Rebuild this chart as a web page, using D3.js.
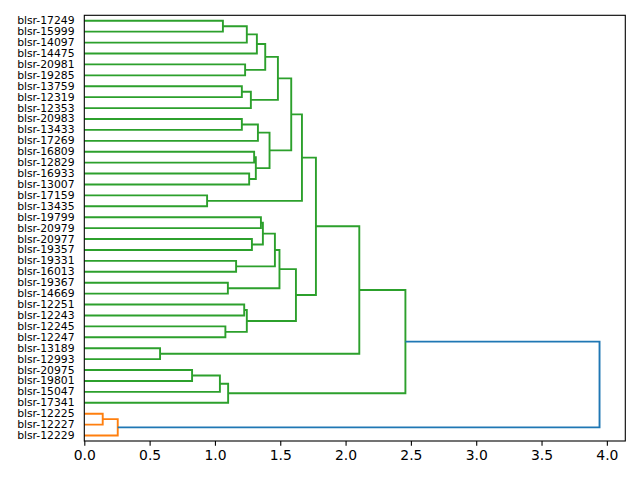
<!DOCTYPE html>
<html lang="en">
<head>
    <meta charset="UTF-8">
    <title>Dendrogram</title>
    <style>
        body {
            margin: 0;
            padding: 0;
            background-color: #ffffff;
        }
        svg text {
            font-family: 'DejaVu Sans', sans-serif;
            fill: #000000;
        }
    </style>
</head>
<body>
    <svg id="chart" width="640" height="480"></svg>
    <script src="https://d3js.org/d3.v7.min.js"></script>
    <script>
        // leaves, top to bottom
        const labels = [
            "blsr-17249", "blsr-15999", "blsr-14097", "blsr-14475", "blsr-20981", "blsr-19285",
            "blsr-13759", "blsr-12319", "blsr-12353", "blsr-20983", "blsr-13433", "blsr-17269",
            "blsr-16809", "blsr-12829", "blsr-16933", "blsr-13007", "blsr-17159", "blsr-13435",
            "blsr-19799", "blsr-20979", "blsr-20977", "blsr-19357", "blsr-19331", "blsr-16013",
            "blsr-19367", "blsr-14669", "blsr-12251", "blsr-12243", "blsr-12245", "blsr-12247",
            "blsr-13189", "blsr-12993", "blsr-20975", "blsr-19801", "blsr-15047", "blsr-17341",
            "blsr-12225", "blsr-12227", "blsr-12229"
        ];
        // linkage: [child a, child b] (index < labels.length is a leaf, else merge number + labels.length)
        const mergePairs = [
            [0, 1], [39, 2], [40, 3], [4, 5], [41, 42], [6, 7], [44, 8], [43, 45],
            [9, 10], [47, 11], [12, 13], [14, 15], [49, 50], [48, 51], [46, 52], [16, 17],
            [53, 54], [18, 19], [20, 21], [56, 57], [22, 23], [58, 59], [24, 25], [60, 61],
            [26, 27], [28, 29], [63, 64], [62, 65], [55, 66], [30, 31], [67, 68], [32, 33],
            [70, 34], [71, 35], [69, 72], [36, 37], [74, 38], [73, 75]
        ];
        const mergeHeights = [
            1.061, 1.244, 1.321, 1.231, 1.385, 1.206, 1.275, 1.482,
            1.206, 1.329, 1.300, 1.262, 1.313, 1.418, 1.584, 0.940,
            1.666, 1.352, 1.283, 1.367, 1.162, 1.459, 1.099, 1.494,
            1.224, 1.080, 1.244, 1.620, 1.773, 0.580, 2.105, 0.825,
            1.038, 1.101, 2.458, 0.141, 0.256, 3.944
        ];
        const xTicks = [0, 0.5, 1, 1.5, 2, 2.5, 3, 3.5, 4];
        const palette = ["#ff7f0e", "#2ca02c", "#d62728", "#9467bd"];
        const aboveColor = "#1f77b4";

        const svg = d3.select("#chart");
        const margin = {top: 15.3, right: 14.7, bottom: 39, left: 84.3};
        const width = 640 - margin.left - margin.right;
        const height = 480 - margin.top - margin.bottom;
        const chart = svg.append("g").attr("transform", `translate(${margin.left}, ${margin.top})`);

        const n = labels.length;
        const maxH = d3.max(mergeHeights);
        const x = d3.scaleLinear().domain([0, maxH * 1.05]).range([0, width]);
        const y = d3.scaleLinear().domain([0, n]).range([0, height]);

        // positions of every node (leaf slot units) and heights
        const pos = labels.map((d, i) => i + 0.5);
        const hgt = labels.map(() => 0);
        const leafMax = labels.map((d, i) => i);
        mergePairs.forEach((p, k) => {
            pos.push((pos[p[0]] + pos[p[1]]) / 2);
            hgt.push(mergeHeights[k]);
            leafMax.push(Math.max(leafMax[p[0]], leafMax[p[1]]));
        });

        // colour clusters below 0.7 * max height, bottom cluster first
        const threshold = 0.7 * maxH;
        const parent = {};
        mergePairs.forEach((p, k) => { parent[p[0]] = n + k; parent[p[1]] = n + k; });
        const clusterRoots = [];
        mergePairs.forEach((p, k) => {
            const id = n + k;
            const par = parent[id];
            if (hgt[id] <= threshold && (par === undefined || hgt[par] > threshold)) clusterRoots.push(id);
        });
        clusterRoots.sort((a, b) => leafMax[b] - leafMax[a]);
        const nodeColor = {};
        function paint(id, c) {
            if (id < n) return;
            nodeColor[id] = c;
            mergePairs[id - n].forEach(ch => paint(ch, c));
        }
        clusterRoots.forEach((id, i) => paint(id, palette[i % palette.length]));

        const line = d3.line().x(d => x(d[0])).y(d => y(d[1]));
        chart.selectAll("path.link")
            .data(mergePairs)
            .enter()
            .append("path")
            .attr("class", "link")
            .attr("d", (p, k) => {
                const h = mergeHeights[k];
                return line([[hgt[p[0]], pos[p[0]]], [h, pos[p[0]]], [h, pos[p[1]]], [hgt[p[1]], pos[p[1]]]]);
            })
            .attr("fill", "none")
            .attr("stroke", (p, k) => nodeColor[n + k] || aboveColor)
            .attr("stroke-width", 1.9);

        // leaf labels
        chart.selectAll("text.leaf")
            .data(labels)
            .enter()
            .append("text")
            .attr("class", "leaf")
            .attr("x", -9.7)
            .attr("y", (d, i) => y(pos[i]))
            .attr("text-anchor", "end")
            .attr("dominant-baseline", "central")
            .attr("font-size", "10.8px")
            .text(d => d);

        const xAxis = chart.append("g")
            .attr("transform", `translate(0, ${height})`)
            .call(d3.axisBottom(x).tickValues(xTicks).tickFormat(d3.format(".1f")).tickSize(4.86).tickPadding(4.6));
        xAxis.select(".domain").remove();
        xAxis.selectAll("line").attr("stroke", "#000").attr("stroke-width", 1.1);
        xAxis.selectAll("text").attr("font-size", "13.9px").attr("font-family", "'DejaVu Sans', sans-serif").attr("fill", "#000");

        chart.append("rect")
            .attr("x", 0)
            .attr("y", 0)
            .attr("width", width)
            .attr("height", height)
            .attr("fill", "none")
            .attr("stroke", "#000")
            .attr("stroke-width", 1.1);
    </script>
</body>
</html>
